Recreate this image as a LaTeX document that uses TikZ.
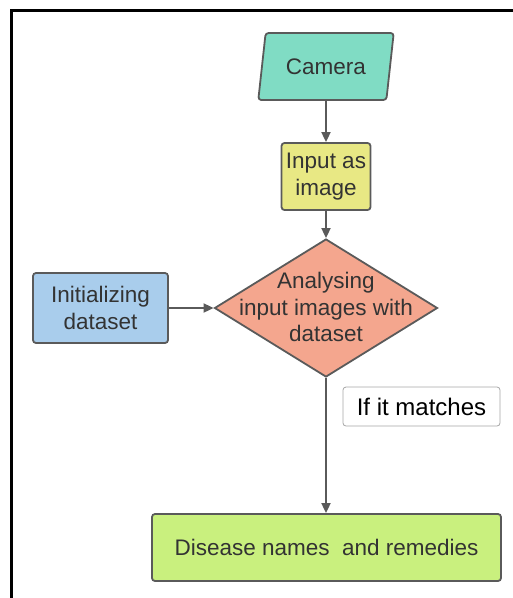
\documentclass[tikz,border=0pt]{standalone}
\usepackage{fontspec}
\setmainfont{Liberation Sans}
\usetikzlibrary{shapes.geometric,arrows.meta}
\definecolor{edgegray}{HTML}{5A5A5A}
\definecolor{txtgray}{HTML}{333333}
\definecolor{camfill}{HTML}{80DCC4}
\definecolor{inpfill}{HTML}{E8E884}
\definecolor{diafill}{HTML}{F4A68E}
\definecolor{inifill}{HTML}{A9CDEC}
\definecolor{disfill}{HTML}{C9F07E}
\tikzset{
  boxshape/.style={draw=edgegray, line width=1.8pt, rounded corners=3pt, inner sep=0pt,
    align=center, text=txtgray, font=\fontsize{22.5}{26.5}\selectfont},
  conn/.style={draw=edgegray, line width=1.8pt, -{Triangle[length=10pt,width=9pt]}},
  txt/.style={align=center, text=txtgray, font=\fontsize{22.5}{26.5}\selectfont, inner sep=0pt}
}
\begin{document}
\begin{tikzpicture}[x=1pt,y=-1pt]
\useasboundingbox (0,0) rectangle (513,598);
% frame
\draw[black, line width=2.2pt] (11.5,598) -- (11.5,10.5) -- (513,10.5);
% nodes
\node[boxshape, fill=camfill, trapezium, trapezium left angle=73, trapezium right angle=107,
  trapezium stretches=true, minimum width=136pt, minimum height=67pt] (cam) at (326,66.5) {Camera};
\node[boxshape, fill=inpfill, minimum width=89pt, minimum height=67pt] (inp) at (326,176.5) {Input as\\image};
\node[draw=edgegray, line width=1.8pt, fill=diafill, diamond, inner sep=0pt,
  minimum width=223pt, minimum height=138pt] (dia) at (326,308) {};
\node[txt] (diatext) at (326,307) {Analysing\\input images with\\dataset};
\node[boxshape, fill=inifill, minimum width=135pt, minimum height=70pt] (ini) at (100.5,308) {Initializing\\dataset};
\node[draw=gray!70, line width=0.8pt, rounded corners=3pt, fill=white, minimum width=157pt,
  minimum height=39pt, inner sep=0pt, font=\fontsize{24}{28}\selectfont] (match) at (421.5,406.5) {If it matches};
\node[boxshape, fill=disfill, minimum width=349pt, minimum height=67pt] (dis) at (326.5,547.5) {Disease names\ \ and remedies};
% connectors
\draw[conn] (cam.south -| inp) -- (inp.north);
\draw[conn] (inp.south) -- (dia.north);
\draw[conn] (ini.east) -- (dia.west);
\draw[conn] (dia.south) -- (dia.south |- dis.north);
\end{tikzpicture}
\end{document}
